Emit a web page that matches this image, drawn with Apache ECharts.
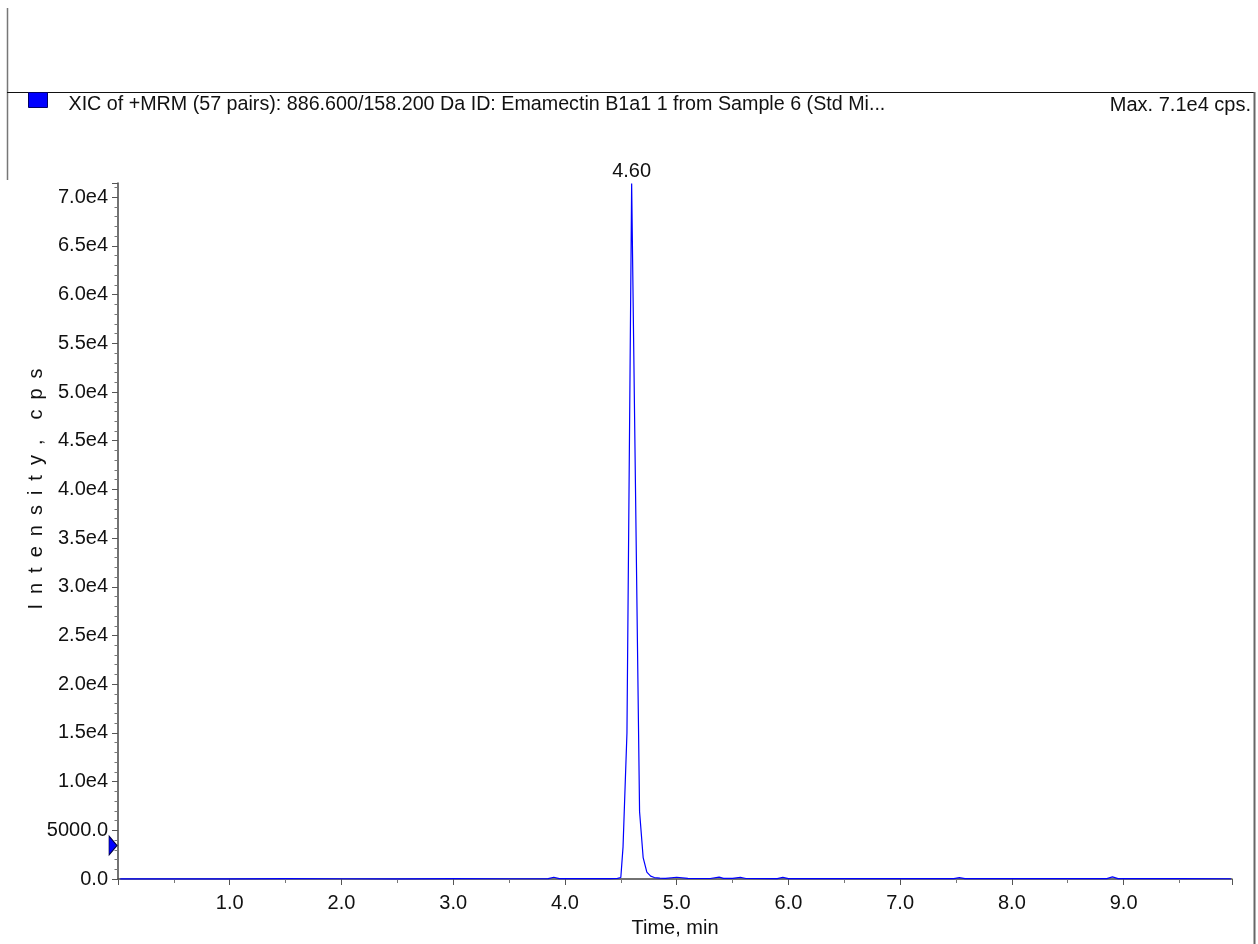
<!DOCTYPE html>
<html><head><meta charset="utf-8">
<script src="https://cdn.jsdelivr.net/npm/echarts@6/dist/echarts.min.js"></script>
<style>html,body{margin:0;padding:0;background:#fff;overflow:hidden}#c{width:1258px;height:944px}</style>
</head><body><div id="c"></div>
<script>
// ---- data ----
const seriesName = 'XIC of +MRM (57 pairs): 886.600/158.200 Da ID: Emamectin B1a1 1 from Sample 6 (Std Mi...';
const maxText = 'Max. 7.1e4 cps.';
const xAxisTitle = 'Time, min';
const yAxisTitle = 'I\u2002n\u2002t\u2002e\u2002n\u2002s\u2002i\u2002t\u2002y\u2002,\u2002\u2002c\u2002p\u2002s';
const peakLabel = '4.60';
const times = [0.02, 0.5, 1.0, 1.5, 2.0, 2.5, 3.0, 3.5, 3.85, 3.90, 3.95, 4.2, 4.40, 4.47, 4.50, 4.52, 4.555, 4.597, 4.668, 4.70, 4.733, 4.767, 4.80, 4.85, 4.90, 5.0, 5.1, 5.3, 5.38, 5.42, 5.5, 5.57, 5.62, 5.9, 5.95, 6.0, 6.5, 7.0, 7.48, 7.53, 7.58, 8.0, 8.5, 8.85, 8.9, 8.95, 9.5, 9.96];
const intensities = [20, 25, 20, 30, 25, 20, 30, 25, 40, 180, 40, 30, 40, 60, 150, 3300, 15000, 71400, 6900, 2200, 700, 300, 150, 90, 60, 180, 60, 50, 200, 70, 60, 170, 50, 40, 160, 40, 30, 30, 40, 150, 40, 30, 30, 40, 220, 40, 30, 25];
const xMin = 0, xMax = 9.97, xStep = 1;
const yMin = 0, yMax = 71460, yStep = 5000;
const markerLevel = 3440;

// ---- chart ----
const FONT = '"Liberation Sans", Arial, sans-serif';
const FS = 20;
const peakIdx = intensities.indexOf(Math.max(...intensities));
const data = times.map((t, i) => [t, intensities[i]]);
const chart = echarts.init(document.getElementById('c'), null, { renderer: 'canvas' });
chart.setOption({
  animation: false,
  backgroundColor: '#fff',
  grid: { left: 118, right: 26, top: 183, bottom: 65 },
  legend: {
    left: 28, top: 92, padding: 0, itemWidth: 19, itemHeight: 15, itemGap: 0,
    icon: 'rect',
    data: [{ name: seriesName, itemStyle: { color: '#0000ff', borderColor: '#000066', borderWidth: 1 } }],
    formatter: n => '{t|' + n + '}',
    textStyle: { fontFamily: FONT, fontSize: 19.7, color: '#111',
      rich: { t: { fontFamily: FONT, fontSize: 19.7, color: '#111', padding: [10, 0, 0, 16] } } },
    selectedMode: false
  },
  xAxis: {
    type: 'value', min: xMin, max: xMax, interval: xStep,
    name: xAxisTitle, nameLocation: 'middle', nameGap: 39, nameMoveOverlap: false,
    nameTextStyle: { fontFamily: FONT, fontSize: FS, color: '#111' },
    axisLine: { lineStyle: { color: '#444', width: 1.5 } },
    axisTick: { show: true, length: 6, lineStyle: { color: '#555' } },
    minorTick: { show: true, splitNumber: 2, length: 4, lineStyle: { color: '#777' } },
    splitLine: { show: false },
    axisLabel: { showMinLabel: false, showMaxLabel: false, margin: 14, fontFamily: FONT, fontSize: FS, color: '#111', formatter: v => v.toFixed(1) }
  },
  yAxis: {
    type: 'value', min: yMin, max: yMax, interval: yStep,
    name: yAxisTitle, nameLocation: 'middle', nameGap: 72, nameRotate: 90, nameMoveOverlap: false,
    nameTextStyle: { fontFamily: FONT, fontSize: FS, color: '#111', padding: [0, 0, 0, 84] },
    axisLine: { show: true, lineStyle: { color: '#444', width: 1.5 } },
    axisTick: { show: true, length: 6, lineStyle: { color: '#555' } },
    minorTick: { show: true, splitNumber: 5, length: 3.5, lineStyle: { color: '#777' } },
    splitLine: { show: false },
    axisLabel: { showMaxLabel: false, margin: 10, fontFamily: FONT, fontSize: FS, color: '#111',
      formatter: v => v === 0 ? '0.0' : (v < 10000 ? v.toFixed(1) : (v / 1e4).toFixed(1) + 'e4') }
  },
  series: [{
    name: seriesName, type: 'line', data: data, showSymbol: false, symbol: 'none',
    lineStyle: { color: '#0000ff', width: 1.2 }, itemStyle: { color: '#0000ff' },
    clip: false,
    markPoint: {
      label: { show: false },
      data: [
        { coord: [xMin, markerLevel], symbol: 'triangle', symbolSize: [19, 8], symbolRotate: -90, symbolOffset: [-5, 0],
          itemStyle: { color: '#0000ff', borderColor: '#000044', borderWidth: 1 }, label: { show: false } },
        { coord: [times[peakIdx], intensities[peakIdx]], symbol: 'circle', symbolSize: 1,
          itemStyle: { color: 'rgba(0,0,0,0)' },
          label: { show: true, position: 'top', distance: 2, formatter: peakLabel, fontFamily: FONT, fontSize: FS, color: '#111' } }
      ]
    }
  }],
  graphic: [
    { type: 'line', shape: { x1: 7.5, y1: 8, x2: 7.5, y2: 180 }, style: { stroke: '#777', lineWidth: 1.5 } },
    { type: 'line', shape: { x1: 7, y1: 92.5, x2: 1254, y2: 92.5 }, style: { stroke: '#111', lineWidth: 1.2 } },
    { type: 'line', shape: { x1: 1254.5, y1: 92, x2: 1254.5, y2: 944 }, style: { stroke: '#666', lineWidth: 2 } },
    { type: 'text', style: { x: 1251, y: 105, text: maxText, align: 'right', verticalAlign: 'middle', fontFamily: FONT, fontSize: FS, fill: '#111' } }
  ]
});
</script></body></html>
